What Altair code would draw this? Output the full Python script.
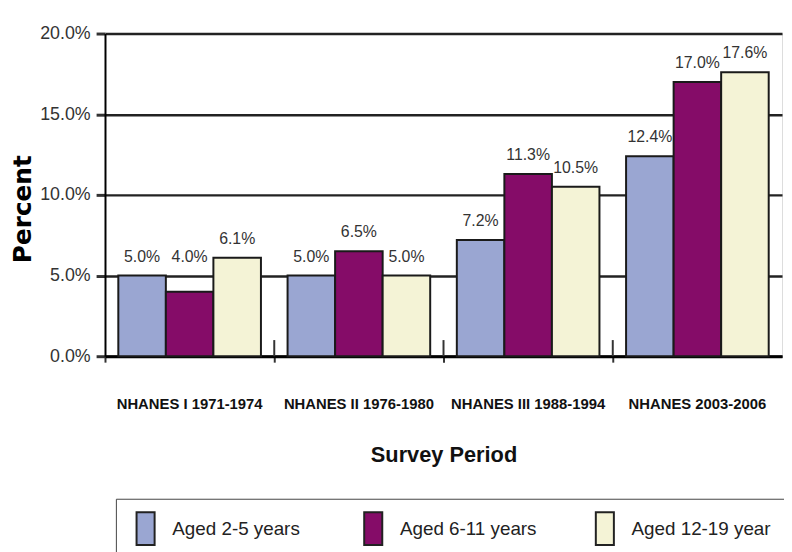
import altair as alt
import pandas as pd

periods = ["NHANES I 1971-1974", "NHANES II 1976-1980", "NHANES III 1988-1994", "NHANES 2003-2006"]
groups = ["Aged 2-5  years", "Aged 6-11 years", "Aged  12-19 year"]
aged_2_5 = [5.0, 5.0, 7.2, 12.4]
aged_6_11 = [4.0, 6.5, 11.3, 17.0]
aged_12_19 = [6.1, 5.0, 10.5, 17.6]
colors = ["#9AA6D2", "#850C68", "#F4F3D6"]
y_ticks = [0, 5, 10, 15, 20]

rows = []
for g, vals in zip(groups, [aged_2_5, aged_6_11, aged_12_19]):
    for p, v in zip(periods, vals):
        rows.append({"period": p, "group": g, "value": v, "label": f"{v:.1f}%"})
df = pd.DataFrame(rows)
bounds = pd.DataFrame({"period": periods[1:]})

FONT = "Liberation Sans, Arial, sans-serif"

x_enc = alt.X("period:N", sort=periods,
              scale=alt.Scale(paddingInner=0, paddingOuter=0),
              axis=alt.Axis(title="Survey Period", labelAngle=0, bandPosition=0,
                            labelFont=FONT, labelFontWeight="bold", labelFontSize=15,
                            labelColor="#111", labelPadding=35,
                            tickSize=6, tickColor="#333", tickWidth=2,
                            domainColor="#000", domainWidth=3,
                            titleFont=FONT, titleFontWeight="bold", titleFontSize=22,
                            titleColor="#111", titlePadding=33))
xo_enc = alt.XOffset("group:N", sort=groups,
                     scale=alt.Scale(paddingInner=0, paddingOuter=0.28))
y_enc = alt.Y("value:Q",
              scale=alt.Scale(domain=[0, 20], nice=False),
              axis=alt.Axis(title="Percent", values=y_ticks,
                            labelExpr="format(datum.value, '.1f') + '%'",
                            labelFont=FONT, labelFontSize=18, labelColor="#333",
                            labelPadding=6,
                            tickSize=9, tickColor="#333", tickWidth=3,
                            domainColor="#000", domainWidth=2,
                            grid=True, gridColor="#222", gridWidth=2.5,
                            titleFont="DejaVu Sans, sans-serif",
                            titleFontWeight="bold", titleFontSize=25,
                            titleColor="#000", titlePadding=4, titleY=177))

bars = alt.Chart(df).mark_bar(stroke="#1a1a1a", strokeWidth=2).encode(
    x=x_enc,
    xOffset=xo_enc,
    y=y_enc,
    fill=alt.Fill("group:N", sort=groups,
                  scale=alt.Scale(domain=groups, range=colors),
                  legend=alt.Legend(title=None, orient="none", legendX=11, legendY=470,
                                    direction="horizontal", columns=3,
                                    fillColor="white", strokeColor="#444",
                                    padding=12, columnPadding=50,
                                    symbolType="M-0.55,-1H0.55V1H-0.55Z",
                                    symbolSize=1100, symbolStrokeColor="#222",
                                    symbolStrokeWidth=2, symbolOpacity=1,
                                    labelFont=FONT, labelFontSize=19,
                                    labelColor="#222", labelOffset=9,
                                    labelLimit=300)),
)

tick_rules = alt.Chart(bounds).mark_rule(color="#333", strokeWidth=2).encode(
    x=alt.X("period:N", sort=periods, bandPosition=0),
    y=alt.datum(0),
    y2=alt.datum(1.0),
)

texts = alt.Chart(df).transform_calculate(
    label_y="max(datum.value, 5)"
).mark_text(baseline="bottom", dy=-11, font=FONT,
            fontSize=16, color="#333").encode(
    x=alt.X("period:N", sort=periods),
    xOffset=alt.XOffset("group:N", sort=groups),
    y=alt.Y("label_y:Q"),
    text="label:N",
)

chart = (bars + tick_rules + texts).properties(
    width=684, height=326,
    autosize=alt.AutoSizeParams(type="none"),
    padding={"left": 98, "top": 23, "right": 2, "bottom": 195},
).configure_view(fill="#C8E8F8", stroke=None).configure(background="white")

chart.save("out.html", embed_options={"renderer": "svg", "actions": False})
